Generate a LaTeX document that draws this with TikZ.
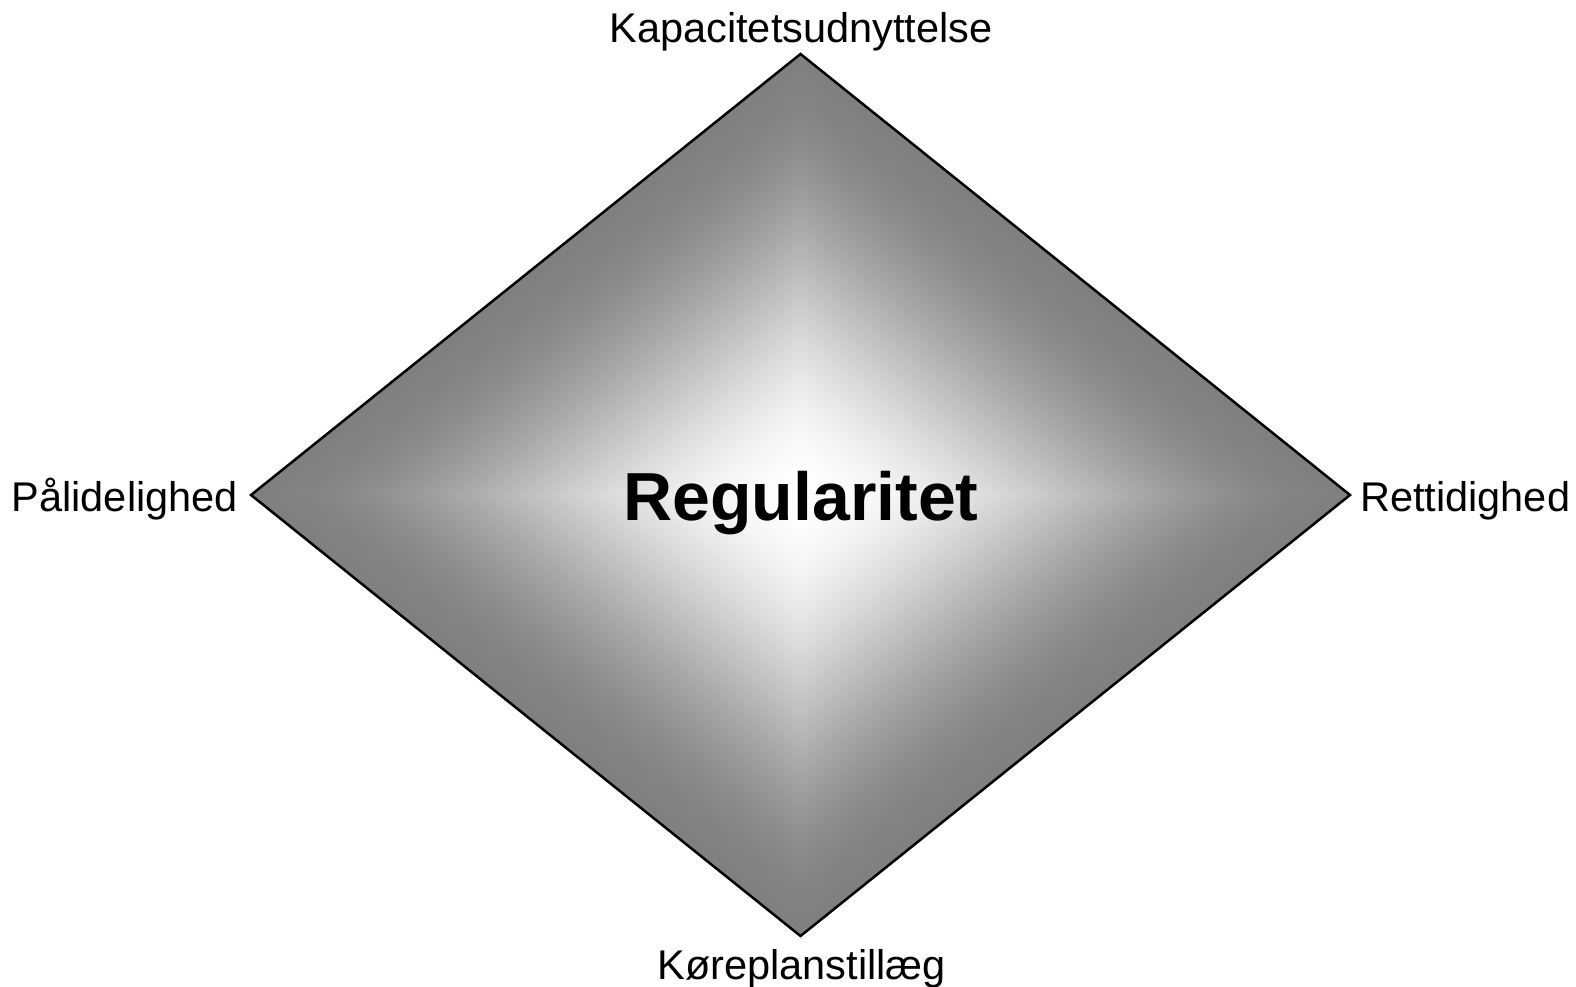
\documentclass[tikz,border=0pt]{standalone}
\usepackage{fontspec}
\setmainfont{Liberation Sans}
\begin{document}
\begin{tikzpicture}[x=1pt,y=-1pt,
  lbl/.style={inner sep=0pt, font=\fontsize{41.5}{41.5}\selectfont},
  title/.style={inner sep=0pt, anchor=base, font=\fontsize{68}{68}\selectfont\bfseries},
  outline/.style={draw=black, line width=2.5pt, line join=miter}]
\useasboundingbox (0,0) rectangle (1576,987);
\coordinate (T) at (800.5,54);
\coordinate (R) at (1350,495);
\coordinate (B) at (800.5,936);
\coordinate (L) at (251,495);
% concentric-diamond gradient: gray at the edge, white at the centre
\foreach \i in {0,...,219}{
  \pgfmathsetmacro\s{1-\i/220}
  \pgfmathsetmacro\k{49.8*(3*\s*\s-2*\s*\s*\s)}
  \fill[black!\k] (800.5-549.5*\s,495) -- (800.5,495-441*\s) -- (800.5+549.5*\s,495) -- (800.5,495+441*\s) -- cycle;
}
\draw[outline] (T) -- (R) -- (B) -- (L) -- cycle;
\node[title] (reg) at (801,520) {Regularitet};
\node[lbl, anchor=base] (kap) at (801,43) {Kapacitetsudnyttelse};
\node[lbl, anchor=base east] (pal) at (238,511) {Pålidelighed};
\node[lbl, anchor=base west] (ret) at (1360,511) {Rettidighed};
\node[lbl, anchor=base] (kor) at (801.5,979) {Køreplanstillæg};
\end{tikzpicture}
\end{document}
